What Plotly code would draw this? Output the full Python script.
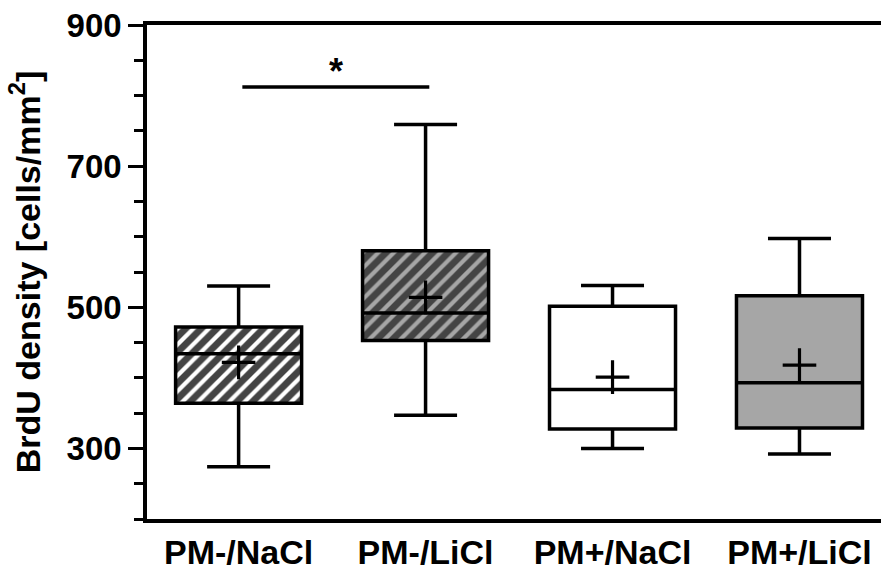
import plotly.graph_objects as go

categories = ["PM-/NaCl", "PM-/LiCl", "PM+/NaCl", "PM+/LiCl"]
q1 = [364, 453, 327.5, 329]
median = [434, 492, 383.5, 393]
q3 = [472, 580, 501.5, 516.5]
lower = [274, 347, 300, 292]
upper = [530, 759, 531, 597.5]
means = [422, 514, 401, 418]
fill_colors = ["white", "#a6a6a6", "white", "#a6a6a6"]
hatch = ["/", "/", "", ""]
sig_pair = [0.02, 1.02]
sig_level = 812
sig_star_y = 834

pos = list(range(len(categories)))
box_w = 0.674
FONT = "Liberation Sans, Arial, sans-serif"

fig = go.Figure()

fig.add_trace(go.Bar(
    x=pos, y=[b - a for a, b in zip(q1, q3)], base=q1, width=box_w,
    marker=dict(color=fill_colors, line=dict(width=0),
                pattern=dict(shape=hatch, fgcolor="black", fgopacity=1,
                             size=11, solidity=0.62)),
    showlegend=False, hoverinfo="skip"))

fig.add_trace(go.Box(
    x=pos, q1=q1, median=median, q3=q3, lowerfence=lower, upperfence=upper,
    width=box_w, whiskerwidth=0.5, fillcolor="rgba(0,0,0,0)",
    line=dict(color="black", width=3.5), boxpoints=False, showlegend=False))

fig.add_trace(go.Scatter(
    x=pos, y=means, mode="markers",
    marker=dict(symbol="cross-thin", size=24, line=dict(color="black", width=3.2)),
    showlegend=False))

fig.add_trace(go.Scatter(
    x=sig_pair, y=[sig_level, sig_level], mode="lines",
    line=dict(color="black", width=3.5), showlegend=False, hoverinfo="skip"))

fig.add_annotation(x=sum(sig_pair) / 2, y=sig_star_y, text="*", showarrow=False,
                   font=dict(family=FONT, size=36, color="black", weight="bold"))

fig.update_layout(
    width=881, height=571,
    margin=dict(l=147, r=0, t=25, b=50),
    paper_bgcolor="white", plot_bgcolor="white",
    boxmode="overlay", barmode="overlay",
    font=dict(family=FONT, size=33, color="black", weight="bold"),
    xaxis=dict(range=[-0.49, 3.436], tickvals=pos, ticktext=categories,
               showline=True, linewidth=3.5, linecolor="black", mirror=True,
               ticks="", showgrid=False, zeroline=False,
               tickfont=dict(family=FONT, size=34, weight="bold")),
    yaxis=dict(range=[200, 900], tickvals=[300, 500, 700, 900],
               showline=True, linewidth=3.5, linecolor="black", mirror=False,
               ticks="outside", ticklen=15, tickwidth=3, tickcolor="black",
               minor=dict(dtick=50, tick0=0, ticks="outside", ticklen=9,
                          tickwidth=3, tickcolor="black"),
               showgrid=False, zeroline=False,
               tickfont=dict(family=FONT, size=33, weight="bold"),
               title=dict(text="BrdU density [cells/mm<sup>2</sup>]", standoff=17,
                          font=dict(family=FONT, size=34, weight="bold"))),
)

fig.write_html("out.html")
